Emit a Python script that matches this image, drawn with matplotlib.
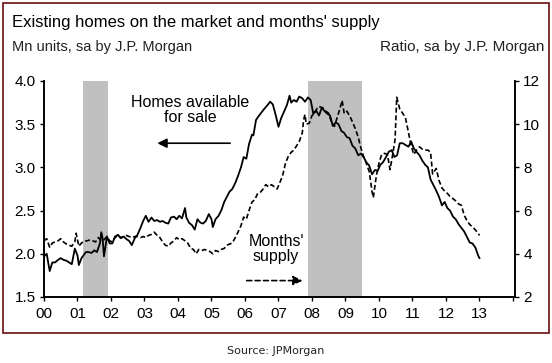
import matplotlib
matplotlib.use("Agg")
import matplotlib.pyplot as plt
from matplotlib.patches import Rectangle

plt.rcParams['font.family'] = ['Liberation Sans', 'DejaVu Sans']

# homes available for sale, Mn units (left axis)
homes_t = [2000.00, 2000.08, 2000.17, 2000.25, 2000.33, 2000.42, 2000.50, 2000.58, 2000.67, 2000.75,
           2000.83, 2000.92, 2001.00, 2001.04, 2001.12, 2001.25, 2001.33, 2001.42, 2001.50, 2001.58,
           2001.67, 2001.71, 2001.75, 2001.79, 2001.88, 2001.96, 2002.04, 2002.12, 2002.21, 2002.29,
           2002.38, 2002.46, 2002.54, 2002.62, 2002.71, 2002.79, 2002.88, 2002.96, 2003.04, 2003.12,
           2003.21, 2003.29, 2003.38, 2003.46, 2003.54, 2003.62, 2003.71, 2003.79, 2003.88, 2003.96,
           2004.04, 2004.12, 2004.21, 2004.25, 2004.33, 2004.42, 2004.50, 2004.58, 2004.67, 2004.75,
           2004.83, 2004.92, 2005.00, 2005.04, 2005.12, 2005.21, 2005.29, 2005.38, 2005.46, 2005.54,
           2005.62, 2005.71, 2005.79, 2005.88, 2005.96, 2006.04, 2006.12, 2006.21, 2006.25, 2006.33,
           2006.42, 2006.50, 2006.58, 2006.67, 2006.75, 2006.83, 2006.92, 2007.00, 2007.08, 2007.17,
           2007.25, 2007.33, 2007.38, 2007.46, 2007.54, 2007.62, 2007.71, 2007.79, 2007.88, 2007.96,
           2008.04, 2008.12, 2008.21, 2008.29, 2008.38, 2008.46, 2008.54, 2008.62, 2008.71, 2008.79,
           2008.88, 2008.96, 2009.04, 2009.12, 2009.21, 2009.29, 2009.38, 2009.46, 2009.54, 2009.62,
           2009.71, 2009.79, 2009.88, 2009.96, 2010.04, 2010.12, 2010.21, 2010.29, 2010.38, 2010.46,
           2010.54, 2010.62, 2010.71, 2010.79, 2010.88, 2010.96, 2011.04, 2011.12, 2011.21, 2011.29,
           2011.38, 2011.46, 2011.54, 2011.62, 2011.71, 2011.79, 2011.88, 2011.96, 2012.04, 2012.12,
           2012.21, 2012.29, 2012.38, 2012.46, 2012.54, 2012.62, 2012.71, 2012.79, 2012.88, 2012.96,
           2013.00]
homes = [1.97, 2.00, 1.80, 1.90, 1.90, 1.93, 1.95, 1.93, 1.92, 1.90,
         1.88, 2.06, 1.98, 1.87, 1.95, 2.02, 2.02, 2.01, 2.04, 2.02,
         2.12, 2.25, 2.18, 1.97, 2.20, 2.12, 2.12, 2.20, 2.22, 2.18,
         2.20, 2.17, 2.15, 2.10, 2.18, 2.22, 2.30, 2.38, 2.44, 2.37,
         2.42, 2.38, 2.39, 2.37, 2.38, 2.36, 2.35, 2.42, 2.43, 2.40,
         2.44, 2.41, 2.53, 2.42, 2.36, 2.33, 2.28, 2.40, 2.36, 2.35,
         2.38, 2.46, 2.40, 2.31, 2.40, 2.44, 2.50, 2.60, 2.66, 2.72,
         2.75, 2.82, 2.90, 3.00, 3.12, 3.10, 3.27, 3.38, 3.37, 3.55,
         3.60, 3.64, 3.68, 3.72, 3.76, 3.73, 3.60, 3.47, 3.57, 3.65,
         3.72, 3.83, 3.75, 3.78, 3.76, 3.82, 3.80, 3.76, 3.81, 3.78,
         3.62, 3.66, 3.60, 3.69, 3.65, 3.62, 3.60, 3.48, 3.52, 3.50,
         3.42, 3.40, 3.35, 3.34, 3.25, 3.22, 3.14, 3.16, 3.12, 3.06,
         3.02, 2.92, 2.97, 2.96, 3.03, 3.06, 3.12, 3.18, 3.20, 3.12,
         3.14, 3.28, 3.28, 3.26, 3.24, 3.30, 3.22, 3.18, 3.14, 3.08,
         3.03, 3.00, 2.86, 2.80, 2.73, 2.66, 2.56, 2.60, 2.53, 2.50,
         2.43, 2.40, 2.34, 2.30, 2.26, 2.20, 2.13, 2.12, 2.07, 1.98,
         1.95]

# months' supply, ratio (right axis)
supply_t = [2000.00, 2000.08, 2000.17, 2000.25, 2000.33, 2000.42, 2000.50, 2000.58, 2000.67, 2000.75,
            2000.83, 2000.92, 2000.96, 2001.04, 2001.12, 2001.21, 2001.29, 2001.38, 2001.46, 2001.54,
            2001.62, 2001.71, 2001.79, 2001.88, 2001.96, 2002.04, 2002.12, 2002.21, 2002.29, 2002.38,
            2002.46, 2002.54, 2002.62, 2002.71, 2002.79, 2002.88, 2002.96, 2003.04, 2003.12, 2003.21,
            2003.29, 2003.38, 2003.46, 2003.54, 2003.62, 2003.71, 2003.79, 2003.88, 2003.96, 2004.04,
            2004.12, 2004.21, 2004.29, 2004.38, 2004.46, 2004.54, 2004.62, 2004.71, 2004.79, 2004.88,
            2004.96, 2005.04, 2005.12, 2005.21, 2005.29, 2005.38, 2005.46, 2005.54, 2005.62, 2005.71,
            2005.79, 2005.88, 2005.96, 2006.04, 2006.12, 2006.21, 2006.29, 2006.38, 2006.46, 2006.54,
            2006.62, 2006.71, 2006.79, 2006.88, 2006.96, 2007.04, 2007.12, 2007.21, 2007.29, 2007.38,
            2007.46, 2007.54, 2007.62, 2007.71, 2007.75, 2007.79, 2007.83, 2007.92, 2008.00, 2008.08,
            2008.17, 2008.25, 2008.33, 2008.42, 2008.50, 2008.58, 2008.67, 2008.75, 2008.83, 2008.90,
            2008.96, 2009.04, 2009.12, 2009.21, 2009.29, 2009.38, 2009.46, 2009.54, 2009.62, 2009.71,
            2009.79, 2009.83, 2009.92, 2010.00, 2010.08, 2010.17, 2010.25, 2010.33, 2010.42, 2010.48,
            2010.53, 2010.62, 2010.71, 2010.79, 2010.88, 2010.96, 2011.04, 2011.12, 2011.21, 2011.29,
            2011.38, 2011.46, 2011.54, 2011.60, 2011.71, 2011.79, 2011.88, 2011.96, 2012.04, 2012.12,
            2012.21, 2012.29, 2012.38, 2012.46, 2012.54, 2012.62, 2012.71, 2012.79, 2012.88, 2012.96,
            2013.00]
supply = [4.6, 4.7, 4.3, 4.5, 4.55, 4.6, 4.7, 4.55, 4.45, 4.4,
          4.35, 4.55, 4.95, 4.35, 4.5, 4.6, 4.6, 4.65, 4.6, 4.55,
          4.75, 4.6, 4.65, 4.8, 4.6, 4.55, 4.75, 4.85, 4.75, 4.8,
          4.85, 4.8, 4.75, 4.8, 4.8, 4.75, 4.8, 4.75, 4.85, 4.9,
          5.0, 4.85, 4.75, 4.55, 4.4, 4.35, 4.5, 4.6, 4.75, 4.65,
          4.7, 4.6, 4.5, 4.25, 4.2, 4.0, 4.2, 4.15, 4.2, 4.15,
          4.1, 4.0, 4.15, 4.1, 4.2, 4.25, 4.4, 4.45, 4.5, 4.75,
          5.0, 5.3, 5.7, 5.6, 6.0, 6.4, 6.5, 6.8, 6.85, 7.0,
          7.2, 7.1, 7.2, 7.1, 7.0, 7.3, 7.6, 8.2, 8.5, 8.7,
          8.8, 9.0, 9.2, 9.6, 10.2, 10.45, 10.0, 10.05, 10.4, 10.5,
          10.8, 10.8, 10.75, 10.6, 10.5, 10.1, 9.9, 10.3, 10.7, 11.1,
          10.5, 10.6, 10.4, 10.1, 9.8, 9.4, 8.9, 8.5, 8.2, 7.8,
          6.9, 6.6, 7.6, 8.2, 8.6, 8.65, 8.6, 7.9, 8.7, 9.3,
          11.25, 10.7, 10.5, 10.3, 9.6, 9.0, 8.6, 8.8, 8.95, 8.85,
          8.8, 8.8, 8.7, 7.7, 7.95, 7.4, 7.05, 6.9, 6.8, 6.65,
          6.55, 6.45, 6.3, 6.25, 5.8, 5.55, 5.35, 5.25, 5.1, 4.95,
          4.85]

recessions = [(2001.17, 2001.92), (2007.88, 2009.49)]
year_ticks = list(range(2000, 2015))
year_labels = ['00', '01', '02', '03', '04', '05', '06', '07', '08', '09', '10', '11', '12', '13', '']

fig = plt.figure(figsize=(5.52, 3.63), dpi=100)
ax = fig.add_axes([44 / 552, 1 - 297 / 363, (515 - 44) / 552, (297 - 81) / 363])
ax2 = ax.twinx()

for a, b in recessions:
    ax.axvspan(a, b, color='#c0c0c0', lw=0, zorder=0)

ax.plot(homes_t, homes, color='black', lw=1.3, zorder=3)
ax2.plot(supply_t, supply, color='black', lw=1.2, ls=(0, (3, 1.6)), zorder=3)

ax.set_xlim(2000, 2014.06)
ax.set_ylim(1.5, 4.0)
ax2.set_ylim(2, 12)
ax.set_yticks([1.5, 2.0, 2.5, 3.0, 3.5, 4.0])
ax.set_yticklabels(['1.5', '2.0', '2.5', '3.0', '3.5', '4.0'])
ax2.set_yticks([2, 4, 6, 8, 10, 12])
ax.set_xticks(year_ticks)
ax.set_xticklabels(year_labels)

for a in (ax, ax2):
    a.spines['top'].set_visible(False)
    for s in ('left', 'right', 'bottom'):
        a.spines[s].set_linewidth(1.2)
    a.tick_params(direction='out', length=3, width=1.0, labelsize=11, pad=3)
ax.tick_params(axis='x', pad=4)

ax.text(2004.36, 3.66, 'Homes available\nfor sale', ha='center', va='center',
        fontsize=11.5, linespacing=1.0)
ax.annotate('', xy=(2003.3, 3.28), xytext=(2005.64, 3.28),
            arrowprops=dict(arrowstyle='-|>', color='black', lw=1.2, mutation_scale=14))
ax.text(2006.93, 2.05, "Months'\nsupply", ha='center', va='center',
        fontsize=11.5, linespacing=1.0)
ax.annotate('', xy=(2007.8, 1.69), xytext=(2005.97, 1.69),
            arrowprops=dict(arrowstyle='-|>', color='black', lw=1.2, ls=(0, (3, 2)),
                            mutation_scale=14))

fig.text(12 / 552, 1 - 22 / 363, "Existing homes on the market and months' supply",
         fontsize=12, va='center', ha='left')
fig.text(12 / 552, 1 - 47 / 363, 'Mn units, sa by J.P. Morgan', fontsize=10.5,
         va='center', ha='left', color='#222222')
fig.text(544 / 552, 1 - 47 / 363, 'Ratio, sa by J.P. Morgan', fontsize=11,
         va='center', ha='right', color='#222222')

fig.patches.append(Rectangle((3 / 552, 1 - 333 / 363), 546 / 552, 330 / 363,
                             transform=fig.transFigure, fill=False,
                             edgecolor='#6b1010', lw=1.2))
fig.text(276 / 552, 1 - 351 / 363, 'Source: JPMorgan', fontsize=8,
         family=['DejaVu Sans'], ha='center', va='center', color='#222222')

fig.savefig('out.png', dpi=100)
